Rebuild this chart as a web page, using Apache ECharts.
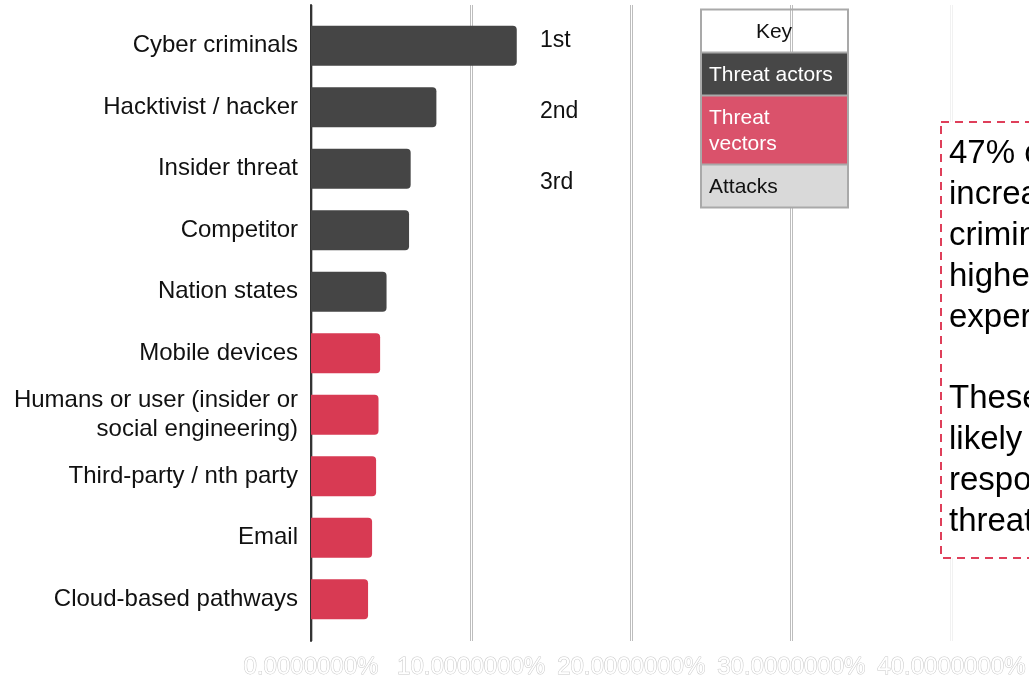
<!DOCTYPE html>
<html>
<head>
<meta charset="utf-8">
<script src="https://cdn.jsdelivr.net/npm/echarts@6/dist/echarts.min.js"></script>
<style>
  html, body { margin: 0; padding: 0; background: #ffffff; }
  #chart { width: 1029px; height: 681px; }
</style>
</head>
<body>
<div id="chart"></div>
<script>
// Threat sources ranked by share of respondents (%)
const categories = [
  'Cyber criminals',
  'Hacktivist / hacker',
  'Insider threat',
  'Competitor',
  'Nation states',
  'Mobile devices',
  'Humans or user (insider or\nsocial engineering)',
  'Third-party / nth party',
  'Email',
  'Cloud-based pathways'
];
const shares = [12.8, 7.8, 6.2, 6.1, 4.7, 4.3, 4.2, 4.05, 3.8, 3.55];
const groups = ['actor', 'actor', 'actor', 'actor', 'actor',
                'vector', 'vector', 'vector', 'vector', 'vector'];
const rankLabels = ['1st', '2nd', '3rd'];
const xTicks = [0, 10, 20, 30, 40];
const keyRows = ['Key', 'Threat actors', 'Threat\nvectors', 'Attacks'];
const noteText = [
  '47% of respondents say',
  'increase in cyber',
  'criminal activity, the',
  'highest level they have',
  'experienced',
  '',
  'These actors are most',
  'likely to be',
  'responsible for the',
  'threats they face'
];

const groupColor = { actor: '#454545', vector: '#d83a53' };

const chart = echarts.init(document.getElementById('chart'), null, { renderer: 'canvas' });

const xMin = xTicks[0];
const xMax = xTicks[xTicks.length - 1];
const xStep = xTicks[1] - xTicks[0];

const option = {
  backgroundColor: '#ffffff',
  animation: false,
  textStyle: { fontFamily: 'Liberation Sans, Arial, sans-serif' },
  grid: [
    // frame grid: value axis, gridlines and the vertical baseline
    { left: 311, right: 75, top: 5, bottom: 40 },
    // bar grid
    { left: 311, right: 75, top: 15, bottom: 51 }
  ],
  xAxis: [
    {
      gridIndex: 0, type: 'value', min: xMin, max: xMax, interval: xStep,
      axisLine: { show: false }, axisTick: { show: false },
      splitLine: { show: true, lineStyle: { width: 3, color: ['#bdbdbd', '#bdbdbd', '#bdbdbd', '#bdbdbd', '#f1f1f1'] } },
      axisLabel: {
        margin: 14,
        showMinLabel: true,
        showMaxLabel: true,
        hideOverlap: false,
        fontFamily: 'Liberation Sans, Arial, sans-serif',
        fontSize: 24,
        color: '#ffffff',
        textBorderColor: '#c9c9c9',
        textBorderWidth: 1,
        formatter: v => v.toFixed(7) + '%'
      }
    },
    {
      gridIndex: 0, type: 'value', min: xMin, max: xMax, interval: xStep,
      axisLine: { show: false }, axisTick: { show: false }, axisLabel: { show: false },
      splitLine: { show: true, lineStyle: { width: 1, color: '#ffffff' } }
    },
    {
      gridIndex: 1, type: 'value', min: xMin, max: xMax, interval: xStep,
      show: false
    }
  ],
  yAxis: [
    {
      gridIndex: 0, type: 'value', min: 0, max: 1,
      axisLine: { show: true, lineStyle: { color: '#333333', width: 2 } },
      axisTick: { show: false }, axisLabel: { show: false }, splitLine: { show: false }
    },
    {
      gridIndex: 1, type: 'category', data: categories, inverse: true,
      axisLine: { show: false }, axisTick: { show: false }, splitLine: { show: false },
      axisLabel: {
        margin: 13,
        fontSize: 24,
        lineHeight: 29,
        color: '#111111',
        align: 'right',
        fontFamily: 'Liberation Sans, Arial, sans-serif'
      }
    }
  ],
  series: [
    {
      type: 'bar',
      xAxisIndex: 2,
      yAxisIndex: 1,
      barWidth: 40,
      data: shares.map((v, i) => ({
        value: v,
        itemStyle: { color: groupColor[groups[i]], borderRadius: [0, 4, 4, 0] }
      })),
      z: 3
    }
  ],
  graphic: [
    // rank annotations beside the top three bars
    ...rankLabels.map((t, i) => ({
      type: 'text', left: 540, top: [29, 100, 171][i], z: 50,
      style: { text: t, font: '23px "Liberation Sans", Arial, sans-serif', fill: '#111111' }
    })),
    // key table
    { type: 'rect', z: 50, shape: { x: 701, y: 53, width: 147, height: 43 }, style: { fill: '#474747' } },
    { type: 'rect', z: 50, shape: { x: 701, y: 96, width: 147, height: 68 }, style: { fill: '#da526b' } },
    { type: 'rect', z: 50, shape: { x: 701, y: 164, width: 147, height: 43 }, style: { fill: '#d9d9d9' } },
    { type: 'rect', z: 51, shape: { x: 701, y: 9.5, width: 147, height: 198 }, style: { fill: null, stroke: '#a9a9a9', lineWidth: 2 } },
    { type: 'line', z: 51, shape: { x1: 701, y1: 52.5, x2: 848, y2: 52.5 }, style: { stroke: '#a9a9a9', lineWidth: 2 } },
    { type: 'line', z: 51, shape: { x1: 701, y1: 95.5, x2: 848, y2: 95.5 }, style: { stroke: '#a9a9a9', lineWidth: 2 } },
    { type: 'line', z: 51, shape: { x1: 701, y1: 164.5, x2: 848, y2: 164.5 }, style: { stroke: '#a9a9a9', lineWidth: 2 } },
    { type: 'text', z: 52, style: { x: 774, y: 32, text: keyRows[0], align: 'center', verticalAlign: 'middle', font: '21px "Liberation Sans", Arial, sans-serif', fill: '#111111' } },
    { type: 'text', z: 52, style: { x: 709, y: 75, text: keyRows[1], verticalAlign: 'middle', font: '21px "Liberation Sans", Arial, sans-serif', fill: '#ffffff' } },
    { type: 'text', z: 52, style: { x: 709, y: 131, text: keyRows[2], verticalAlign: 'middle', lineHeight: 26, font: '21px "Liberation Sans", Arial, sans-serif', fill: '#ffffff' } },
    { type: 'text', z: 52, style: { x: 709, y: 187, text: keyRows[3], verticalAlign: 'middle', font: '21px "Liberation Sans", Arial, sans-serif', fill: '#111111' } },
    // call-out box
    { type: 'rect', z: 50, shape: { x: 941, y: 122, width: 200, height: 436 },
      style: { fill: '#ffffff', stroke: '#df3f5a', lineWidth: 2, lineDash: [8, 6] } },
    { type: 'text', z: 52, style: { x: 949, y: 134, text: noteText.join('\n'), lineHeight: 40.8,
      font: '33px "Liberation Sans", Arial, sans-serif', fill: '#000000' } }
  ]
};

chart.setOption(option);
</script>
</body>
</html>
